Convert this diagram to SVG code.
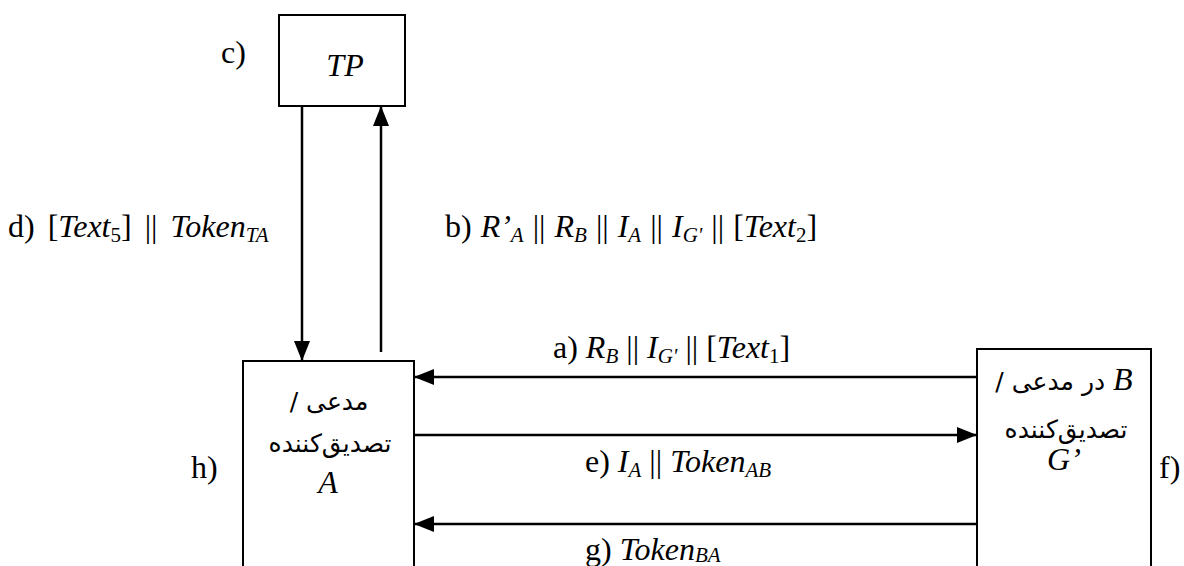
<svg xmlns="http://www.w3.org/2000/svg" width="1184" height="566" viewBox="0 0 1184 566">
<defs>
<style>
.box{fill:#fff;stroke:#000;stroke-width:2}
.ln{stroke:#000;stroke-width:2.5;fill:none}
.t{font-family:"Liberation Serif","DejaVu Serif",serif;font-size:32px;fill:#000}
.i{font-style:italic}
.s{font-size:21px;font-style:italic}
.n{font-size:21px}
.fa{font-family:"DejaVu Sans",sans-serif;font-size:25px;fill:#000}
</style>
<marker id="ah" viewBox="0 0 20 16" refX="20" refY="8" markerWidth="20" markerHeight="16" markerUnits="userSpaceOnUse" orient="auto">
<path d="M0,0 L20,8 L0,16 Z" fill="#000"/>
</marker>
</defs>
<rect width="1184" height="566" fill="#fff"/>
<g id="tp">
<rect class="box" x="279" y="15" width="126" height="91"/>
<text class="t i" x="345" y="76" text-anchor="middle">TP</text>
<text class="t" x="221" y="63">c)</text>
</g>
<g id="nodeA">
<rect class="box" x="243" y="361" width="171" height="220"/>
<text class="fa" x="329" y="410" text-anchor="middle" direction="rtl">مدعی /</text>
<text class="fa" x="330" y="452" text-anchor="middle" direction="rtl">تصدیق‌کننده</text>
<text class="t i" x="328" y="493" text-anchor="middle">A</text>
<text class="t" x="191" y="478">h)</text>
</g>
<g id="nodeB">
<rect class="box" x="977" y="349" width="174" height="232"/>
<text class="fa" x="1064" y="390" text-anchor="middle" direction="rtl"><tspan class="t i">B</tspan> در مدعی /</text>
<text class="fa" x="1066" y="438" text-anchor="middle" direction="rtl">تصدیق‌کننده</text>
<text class="t i" x="1064" y="470" text-anchor="middle">G’</text>
<text class="t" x="1159" y="478">f)</text>
</g>
<g id="connectors">
<line class="ln" x1="302" y1="106" x2="302" y2="361" marker-end="url(#ah)"/>
<line class="ln" x1="381" y1="352" x2="381" y2="106" marker-end="url(#ah)"/>
<line class="ln" x1="977" y1="377" x2="414" y2="377" marker-end="url(#ah)"/>
<line class="ln" x1="414" y1="435" x2="977" y2="435" marker-end="url(#ah)"/>
<line class="ln" x1="977" y1="524" x2="414" y2="524" marker-end="url(#ah)"/>
<text class="t" x="8" y="237" word-spacing="5">d) [<tspan class="i">Text</tspan><tspan class="n" dy="5">5</tspan><tspan dy="-5">] || </tspan><tspan class="i">Token</tspan><tspan class="s" dy="5">TA</tspan></text>
<text class="t" x="445" y="237" word-spacing="1">b) <tspan class="i">R’</tspan><tspan class="s" dy="5">A</tspan><tspan dy="-5"> || </tspan><tspan class="i">R</tspan><tspan class="s" dy="5">B</tspan><tspan dy="-5"> || </tspan><tspan class="i">I</tspan><tspan class="s" dy="5">A</tspan><tspan dy="-5"> || </tspan><tspan class="i">I</tspan><tspan class="s" dy="5">G'</tspan><tspan dy="-5"> || [</tspan><tspan class="i">Text</tspan><tspan class="n" dy="5">2</tspan><tspan dy="-5">]</tspan></text>
<text class="t" x="553" y="358">a) <tspan class="i">R</tspan><tspan class="s" dy="5">B</tspan><tspan dy="-5"> || </tspan><tspan class="i">I</tspan><tspan class="s" dy="5">G'</tspan><tspan dy="-5"> || [</tspan><tspan class="i">Text</tspan><tspan class="n" dy="5">1</tspan><tspan dy="-5">]</tspan></text>
<text class="t" x="585" y="472">e) <tspan class="i">I</tspan><tspan class="s" dy="5">A</tspan><tspan dy="-5"> || </tspan><tspan class="i">Token</tspan><tspan class="s" dy="5">AB</tspan></text>
<text class="t" x="585" y="560">g) <tspan class="i">Token</tspan><tspan class="s" dy="2">BA</tspan></text>
</g>
</svg>
